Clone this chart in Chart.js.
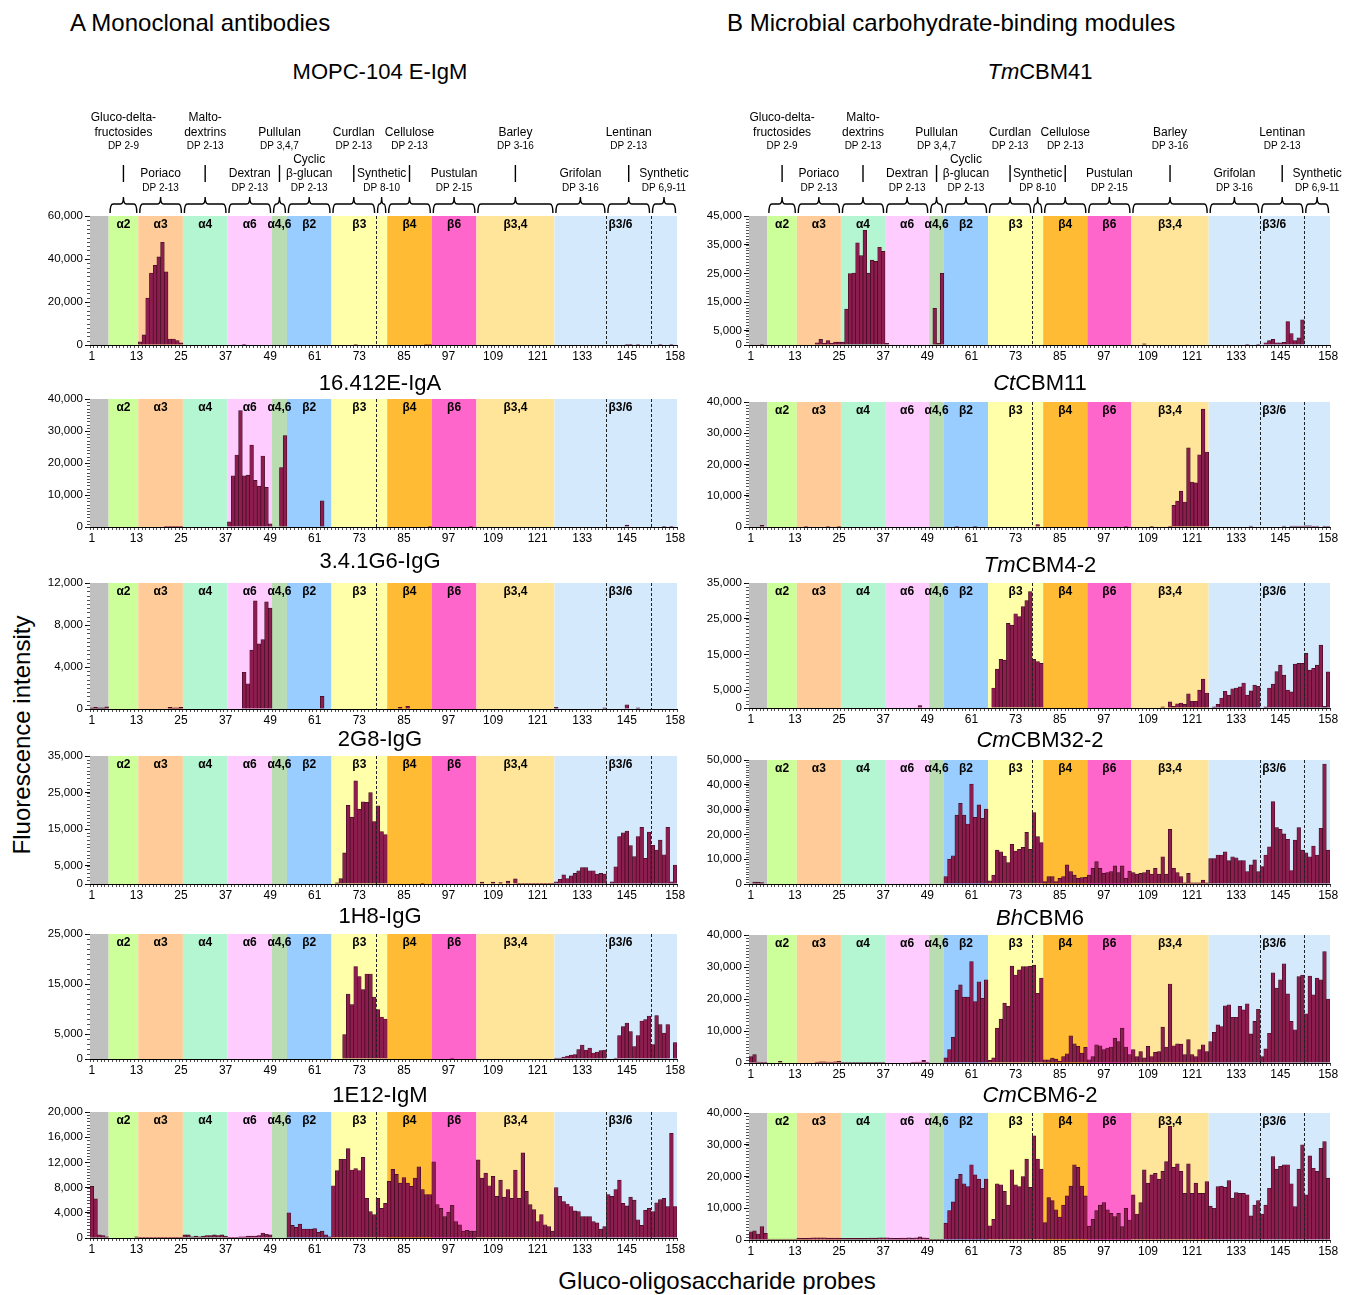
<!DOCTYPE html>
<html>
<head>
<meta charset="utf-8">
<script src="https://cdn.jsdelivr.net/npm/chart.js@4.4.1/dist/chart.umd.min.js"></script>
<style>
  body { margin: 0; background: #fff; }
  #page { position: relative; width: 1352px; height: 1295px; overflow: hidden; font-family: "Liberation Sans", Arial, sans-serif; color: #000; }
  .txt { position: absolute; white-space: nowrap; }
  .head { font-size: 24px; transform: translateY(-50%); }
  .title { font-size: 22px; transform: translate(-50%, -50%); }
  .axisTitle { font-size: 24px; transform: translate(-50%, -50%); }
  canvas { position: absolute; }
</style>
</head>
<body>
<div id="page">
  <div class="txt head" style="left:70px; top:23px;">A Monoclonal antibodies</div>
  <div class="txt head" style="left:727px; top:23px;">B Microbial carbohydrate-binding modules</div>
  <div class="txt axisTitle" style="left:22px; top:735px; transform: translate(-50%, -50%) rotate(-90deg);">Fluorescence intensity</div>
  <div class="txt axisTitle" style="left:717px; top:1281px;">Gluco-oligosaccharide probes</div>
</div>
<script>
// Glycan microarray binding: 12 panels, 158 gluco-oligosaccharide probes each

const probeLabels = [];
for (let i = 1; i <= 158; i++) probeLabels.push(String(i));
const tickProbes = [1, 13, 25, 37, 49, 61, 73, 85, 97, 109, 121, 133, 145, 158];

// probe ranges of the coloured linkage bands
const bandRanges = [[1, 5], [6, 13], [14, 25], [26, 37], [38, 49], [50, 53], [54, 65], [66, 80], [81, 92], [93, 104], [105, 125], [126, 158]];
const bandLabels = ['', 'α2', 'α3', 'α4', 'α6', 'α4,6', 'β2', 'β3', 'β4', 'β6', 'β3,4', ''];
const dividerEdges = [77, 139, 151];

// oligosaccharide series over the top panels
const upperGroups = [
    { name: ['Gluco-delta-', 'fructosides'], dp: 'DP 2-9', from: 6, to: 13 },
    { name: ['Malto-', 'dextrins'], dp: 'DP 2-13', from: 26, to: 37 },
    { name: ['Pullulan'], dp: 'DP 3,4,7', from: 50, to: 53 },
    { name: ['Curdlan'], dp: 'DP 2-13', from: 66, to: 77 },
    { name: ['Cellulose'], dp: 'DP 2-13', from: 81, to: 92 },
    { name: ['Barley'], dp: 'DP 3-16', from: 105, to: 125 },
    { name: ['Lentinan'], dp: 'DP 2-13', from: 140, to: 151 }
];
const lowerGroups = [
    { name: ['Poriaco'], dp: 'DP 2-13', from: 14, to: 25 },
    { name: ['Dextran'], dp: 'DP 2-13', from: 38, to: 49 },
    { name: ['Cyclic', 'β-glucan'], dp: 'DP 2-13', from: 54, to: 65 },
    { name: ['Synthetic'], dp: 'DP 8-10', from: 78, to: 80 },
    { name: ['Pustulan'], dp: 'DP 2-15', from: 93, to: 104 },
    { name: ['Grifolan'], dp: 'DP 3-16', from: 126, to: 139 },
    { name: ['Synthetic'], dp: 'DP 6,9-11', from: 152, to: 158 }
];

// ---- A: monoclonal antibodies ----
const mopc104 = [
    0, 0, 0, 0, 0,
    0, 0, 0, 0, 0, 0, 0, 0,
    1500, 4700, 21800, 33500, 37000, 41000, 47800, 34000, 2800, 2800, 2000, 1000,
    0, 0, 0, 0, 0, 0, 0, 0, 0, 0, 0, 0,
    0, 0, 0, 0, 300, 0, 0, 0, 0, 0, 0, 0,
    0, 0, 0, 0,
    0, 0, 0, 0, 0, 0, 0, 0, 0, 0, 0, 0,
    0, 0, 0, 0, 0, 0, 200, 0, 0, 0, 0, 0, 0, 0, 0,
    0, 0, 0, 0, 0, 0, 0, 0, 0, 0, 200, 200,
    0, 0, 0, 0, 0, 0, 0, 0, 0, 0, 0, 0,
    0, 0, 0, 0, 0, 0, 0, 0, 0, 0, 0, 0, 0, 0, 0, 0, 0, 0, 0, 0, 0,
    0, 0, 0, 0, 0, 0, 0, 0, 0, 0, 0, 0, 0, 0,
    0, 0, 0, 0, 0, 200, 300, 0, 200, 0, 0, 0,
    0, 0, 200, 0, 0, 200, 0
];
const igA16412 = [
    0, 0, 0, 0, 0,
    0, 0, 0, 0, 0, 0, 0, 0,
    0, 0, 0, 0, 0, 0, 0, 200, 200, 200, 200, 200,
    0, 0, 0, 0, 0, 0, 0, 0, 0, 0, 0, 0,
    1600, 16000, 22500, 36400, 16000, 16200, 25600, 14600, 12800, 22200, 12400, 1000,
    0, 0, 18600, 28600,
    0, 0, 0, 0, 0, 0, 0, 0, 0, 8200, 0, 0,
    0, 0, 0, 0, 0, 0, 0, 0, 0, 0, 0, 0, 0, 0, 0,
    0, 0, 0, 0, 0, 0, 0, 0, 0, 0, 0, 200,
    0, 0, 0, 0, 0, 0, 0, 0, 0, 0, 200, 0,
    0, 0, 0, 0, 0, 0, 0, 0, 0, 0, 0, 0, 0, 0, 0, 0, 0, 0, 0, 0, 0,
    0, 0, 0, 0, 0, 0, 0, 0, 0, 0, 0, 0, 0, 0,
    0, 0, 0, 0, 0, 600, 0, 0, 0, 0, 0, 0,
    0, 0, 0, 200, 0, 200, 0
];
const igG341G6 = [
    100, 150, 100, 100, 200,
    0, 0, 0, 0, 0, 0, 0, 0,
    0, 0, 0, 0, 0, 0, 0, 0, 150, 100, 100, 150,
    0, 0, 0, 0, 0, 0, 0, 0, 0, 0, 0, 0,
    0, 0, 0, 0, 3500, 2400, 5600, 10300, 6200, 6600, 10200, 9600,
    0, 0, 0, 0,
    0, 0, 0, 0, 0, 0, 0, 0, 0, 1200, 0, 0,
    0, 0, 0, 0, 0, 0, 0, 0, 0, 0, 0, 0, 0, 0, 0,
    0, 0, 0, 150, 0, 250, 0, 0, 0, 0, 0, 0,
    0, 0, 0, 0, 0, 0, 0, 0, 0, 0, 0, 0,
    0, 0, 0, 0, 0, 0, 0, 0, 0, 0, 0, 0, 0, 0, 0, 0, 0, 0, 0, 0, 0,
    150, 0, 0, 0, 0, 0, 0, 0, 0, 0, 0, 0, 0, 100,
    0, 0, 0, 0, 0, 400, 0, 0, 100, 0, 0, 0,
    0, 0, 0, 0, 0, 0, 0
];
const igG2G8 = [
    0, 0, 0, 0, 0,
    0, 0, 0, 0, 0, 0, 0, 0,
    0, 0, 0, 0, 0, 0, 0, 0, 0, 0, 0, 0,
    0, 0, 0, 0, 0, 0, 0, 0, 0, 0, 0, 0,
    0, 0, 0, 0, 0, 0, 0, 0, 0, 0, 0, 0,
    0, 0, 0, 0,
    0, 0, 0, 0, 0, 0, 0, 0, 0, 0, 0, 0,
    0, 300, 1500, 8500, 21500, 18300, 28200, 20500, 22500, 22300, 25000, 17100, 21400, 14300, 13500,
    0, 0, 0, 0, 0, 0, 0, 0, 0, 200, 0, 0,
    0, 0, 0, 0, 0, 0, 0, 0, 0, 0, 0, 0,
    0, 500, 0, 0, 500, 0, 400, 0, 800, 0, 1400, 200, 200, 200, 200, 200, 200, 200, 200, 200, 200,
    600, 1300, 2500, 1500, 2200, 2900, 3600, 4500, 4500, 3600, 3600, 2700, 2900, 2700,
    0, 600, 4700, 13000, 14000, 14500, 10500, 7500, 13000, 15500, 7000, 14200,
    10600, 9300, 12000, 8000, 15500, 600, 5200
];
const igG1H8 = [
    100, 100, 100, 0, 0,
    0, 0, 0, 0, 0, 0, 0, 0,
    0, 0, 0, 0, 0, 0, 0, 0, 0, 0, 0, 100,
    0, 0, 0, 0, 0, 0, 0, 0, 0, 0, 0, 0,
    0, 0, 0, 0, 0, 0, 0, 0, 0, 0, 0, 0,
    0, 0, 0, 0,
    0, 0, 0, 0, 0, 0, 0, 0, 0, 0, 0, 0,
    0, 0, 0, 4900, 13000, 10900, 18500, 16500, 13900, 17000, 17000, 12400, 9900, 8400, 8000,
    0, 0, 0, 0, 0, 0, 0, 0, 0, 0, 0, 0,
    0, 0, 0, 0, 0, 200, 0, 0, 0, 0, 0, 0,
    0, 0, 0, 0, 0, 0, 0, 0, 0, 0, 0, 0, 0, 0, 0, 0, 0, 0, 0, 0, 0,
    200, 200, 400, 600, 800, 900, 1900, 2800, 1800, 2200, 1200, 1400, 1700, 1800,
    0, 0, 200, 4700, 6500, 7200, 5500, 2500, 4700, 7600, 7900, 8600,
    2900, 8700, 6900, 5200, 6900, 0, 3300
];
const igM1E12 = [
    8200, 6200, 500, 400, 200,
    0, 0, 0, 0, 0, 0, 0, 200,
    100, 100, 100, 100, 100, 100, 100, 100, 100, 100, 100, 100,
    500, 500, 200, 300, 200, 300, 400, 400, 500, 400, 500, 300,
    100, 100, 100, 200, 200, 300, 300, 300, 400, 800, 600, 500,
    0, 0, 0, 0,
    4000, 2000, 1700, 2200, 1400, 1400, 1400, 1500, 900, 1100, 500, 200,
    8300, 10700, 12500, 12500, 14200, 10800, 11000, 10700, 12800, 6300, 4200, 3700, 6300, 4700, 5500,
    9000, 10900, 10100, 8700, 9600, 8700, 8200, 9500, 11300, 7700, 6900, 6900,
    12100, 5300, 4700, 3400, 4100, 5200, 2600, 2100, 1100, 1200, 1100, 1100,
    12400, 9500, 10300, 8300, 9800, 6600, 9200, 6500, 7700, 6300, 10800, 6300, 13500, 7400, 5300, 4500, 2600, 3700, 2100, 1800, 1100,
    8000, 6600, 5800, 5400, 5000, 4300, 4200, 3400, 3400, 3400, 2600, 2400, 1400, 1800,
    6900, 6600, 7700, 9200, 5500, 5100, 6500, 6000, 2900, 2000, 4400, 4700,
    4200, 5600, 6100, 6300, 5000, 16600, 5000
];

// ---- B: microbial carbohydrate-binding modules ----
const tmCBM41 = [
    0, 0, 0, 200, 0,
    0, 0, 0, 0, 0, 0, 0, 0,
    0, 0, 0, 0, 0, 800, 2000, 600, 1500, 600, 1000, 1000,
    1000, 12500, 24900, 25100, 35600, 31200, 40000, 25100, 29600, 29200, 34100, 32700,
    600, 0, 0, 0, 0, 0, 0, 0, 0, 0, 0, 0,
    0, 12800, 600, 25000,
    0, 0, 0, 0, 0, 0, 0, 0, 0, 0, 0, 0,
    0, 0, 0, 0, 0, 0, 0, 0, 0, 0, 0, 0, 0, 0, 0,
    0, 0, 0, 0, 0, 0, 0, 0, 0, 0, 0, 0,
    0, 0, 0, 0, 0, 0, 0, 0, 0, 0, 0, 0,
    0, 0, 0, 400, 0, 0, 0, 0, 0, 0, 0, 0, 0, 0, 0, 0, 0, 0, 0, 0, 0,
    0, 0, 0, 0, 0, 0, 0, 0, 0, 0, 200, 0, 0, 200,
    0, 800, 1500, 2000, 800, 800, 900, 8200, 4000, 1500, 2500, 8800,
    0, 0, 0, 0, 0, 0, 0
];
const ctCBM11 = [
    0, 0, 0, 500, 0,
    0, 0, 0, 0, 0, 0, 0, 0,
    0, 0, 200, 0, 0, 0, 0, 0, 200, 0, 0, 200,
    0, 0, 0, 0, 0, 0, 0, 0, 0, 0, 0, 0,
    0, 0, 0, 0, 0, 0, 0, 0, 0, 0, 0, 0,
    0, 0, 0, 0,
    0, 0, 0, 200, 0, 0, 0, 0, 200, 0, 0, 0,
    0, 0, 0, 0, 0, 0, 0, 0, 0, 0, 0, 0, 0, 800, 0,
    0, 0, 0, 0, 0, 0, 0, 0, 0, 0, 0, 0,
    0, 0, 0, 0, 0, 0, 0, 0, 0, 0, 200, 0,
    0, 0, 0, 0, 0, 200, 0, 0, 0, 0, 200, 6900, 8300, 11500, 8000, 25300, 14400, 14100, 23100, 37700, 24000,
    0, 0, 0, 0, 0, 0, 0, 0, 0, 0, 0, 300, 0, 0,
    0, 0, 0, 0, 0, 0, 300, 0, 300, 300, 300, 300,
    400, 400, 200, 300, 0, 300, 200
];
const tmCBM42 = [
    0, 0, 0, 0, 0,
    0, 0, 0, 0, 0, 0, 0, 0,
    0, 0, 0, 0, 0, 0, 0, 0, 0, 0, 0, 0,
    0, 0, 0, 0, 0, 0, 0, 0, 0, 0, 0, 0,
    0, 0, 0, 0, 0, 0, 0, 0, 0, 700, 0, 0,
    0, 0, 0, 0,
    0, 0, 0, 0, 0, 0, 0, 0, 0, 0, 0, 0,
    0, 5600, 10900, 13600, 13400, 23700, 23200, 26400, 25600, 28400, 30100, 32600, 13600, 13000, 12500,
    0, 0, 0, 0, 0, 0, 0, 0, 0, 0, 0, 0,
    0, 0, 0, 0, 0, 0, 0, 0, 0, 0, 0, 0,
    0, 0, 0, 0, 0, 0, 0, 0, 300, 0, 1700, 500, 1200, 1400, 1000, 4000, 1900, 1900, 5000, 8100, 4200,
    0, 300, 1000, 2800, 4700, 3600, 5400, 5600, 5900, 7000, 3600, 4800, 6400, 6100,
    0, 300, 5600, 6700, 10200, 12000, 9200, 5000, 4500, 12300, 12500, 12500,
    15300, 10600, 11100, 12000, 17600, 500, 10100
];
const cmCBM322 = [
    0, 800, 800, 600, 0,
    0, 0, 0, 0, 0, 0, 0, 0,
    0, 0, 0, 0, 0, 0, 0, 0, 0, 0, 0, 0,
    0, 0, 0, 0, 0, 0, 0, 0, 0, 0, 0, 0,
    0, 0, 0, 0, 0, 0, 0, 0, 0, 0, 0, 0,
    0, 0, 0, 0,
    3000, 10000, 11400, 27800, 32500, 27800, 24200, 40300, 26900, 31900, 26500, 30200,
    1300, 3600, 13700, 13000, 11300, 8600, 16000, 13300, 14000, 14800, 20800, 14000, 28800, 19100, 16700,
    1000, 3000, 3000, 1000, 2300, 3000, 7700, 5000, 3600, 2300, 2600, 2700,
    3600, 6300, 9000, 6300, 4300, 4600, 5000, 7300, 4600, 7300, 2300, 5200,
    4600, 4000, 4300, 4600, 5600, 4000, 6300, 4000, 11000, 4000, 22000, 6300, 4600, 3000, 500, 4300, 500, 500, 500, 1600, 500,
    10300, 10300, 11700, 11700, 13000, 9400, 11000, 10600, 9400, 9400, 5000, 7700, 9700, 5000,
    7000, 11700, 15000, 33200, 22800, 22000, 20200, 18000, 5400, 17700, 22800, 13700,
    12600, 11000, 15300, 11700, 22400, 48400, 13700
];
const bhCBM6 = [
    2000, 2600, 300, 200, 200,
    0, 0, 0, 500, 0, 0, 0, 0,
    0, 0, 0, 0, 0, 300, 400, 400, 300, 300, 400, 500,
    200, 200, 200, 200, 200, 200, 200, 200, 200, 200, 200, 200,
    0, 0, 0, 0, 0, 0, 0, 200, 300, 300, 800, 200,
    0, 0, 0, 0,
    1600, 4200, 8100, 22800, 24400, 20600, 20600, 31700, 19200, 25400, 20200, 26000,
    800, 1600, 10900, 13700, 18700, 17700, 30300, 27500, 29100, 30100, 30100, 30300, 30600, 21800, 26500,
    1000, 1000, 1500, 1200, 500, 2000, 2900, 8500, 6000, 5200, 3100, 4900,
    1000, 2000, 5700, 5400, 4200, 4700, 5000, 7800, 6700, 10900, 5000, 2600,
    4200, 2000, 3600, 1600, 5200, 2000, 3300, 3600, 11200, 5000, 24700, 5400, 6000, 5900, 2600, 7300, 2600, 2000, 4200, 5700, 3600,
    6700, 9600, 11900, 11400, 17900, 18200, 14300, 14300, 17700, 16600, 18500, 9100, 13000, 16800,
    2000, 4400, 9300, 28200, 23400, 26000, 31000, 21600, 13000, 10400, 27000, 27500,
    15400, 27200, 21300, 26500, 26000, 34800, 20000
];
const cmCBM62 = [
    2600, 2900, 1900, 4200, 2100,
    300, 300, 300, 300, 300, 300, 300, 300,
    600, 500, 500, 600, 700, 700, 700, 700, 600, 600, 600, 600,
    500, 500, 500, 500, 500, 500, 500, 600, 600, 600, 700, 700,
    700, 600, 500, 500, 600, 600, 700, 600, 700, 1000, 700, 600,
    200, 200, 200, 200,
    5300, 9300, 12000, 19200, 20700, 17700, 16800, 23700, 20500, 19200, 16300, 19200,
    4500, 6500, 17700, 17400, 15300, 11000, 22100, 17400, 16800, 20000, 25500, 16600, 32800, 25500, 22300,
    5500, 13400, 12400, 9500, 7200, 11000, 13900, 17000, 23700, 22900, 17000, 13900,
    4400, 6500, 9300, 11000, 11800, 9500, 8400, 7400, 8400, 4200, 10000, 6300,
    14200, 8200, 11800, 22100, 17900, 20500, 21000, 19200, 21600, 24700, 35800, 22900, 24000, 21600, 14700, 24000, 14700, 17900, 14700, 14700, 18400,
    10700, 10000, 16800, 17000, 16600, 18700, 13200, 14900, 14700, 14700, 14200, 7600, 11000, 12400,
    8200, 11000, 16300, 26300, 22300, 23200, 23700, 23700, 17700, 10500, 22300, 30000,
    14200, 26500, 22600, 21600, 28900, 31000, 19500
];

// y-axis tick values per panel
const ticks60k = [0, 20000, 40000, 60000];
const ticks40k = [0, 10000, 20000, 30000, 40000];
const ticks12k = [0, 4000, 8000, 12000];
const ticks35k = [0, 5000, 15000, 25000, 35000];
const ticks25k = [0, 5000, 15000, 25000];
const ticks20k = [0, 4000, 8000, 12000, 16000, 20000];
const ticks45k = [0, 5000, 15000, 25000, 35000, 45000];
const ticks50k = [0, 10000, 20000, 30000, 40000, 50000];

const panels = [
    { col: 0, row: 0, title: 'MOPC-104 E-IgM', values: mopc104, yMax: 60000, yTicks: ticks60k, minor: 2000 },
    { col: 0, row: 1, title: '16.412E-IgA', values: igA16412, yMax: 40000, yTicks: ticks40k, minor: 1000 },
    { col: 0, row: 2, title: '3.4.1G6-IgG', values: igG341G6, yMax: 12000, yTicks: ticks12k, minor: 400 },
    { col: 0, row: 3, title: '2G8-IgG', values: igG2G8, yMax: 35000, yTicks: ticks35k, minor: 1000 },
    { col: 0, row: 4, title: '1H8-IgG', values: igG1H8, yMax: 25000, yTicks: ticks25k, minor: 1000 },
    { col: 0, row: 5, title: '1E12-IgM', values: igM1E12, yMax: 20000, yTicks: ticks20k, minor: 500 },
    { col: 1, row: 0, italic: 'Tm', title: 'CBM41', values: tmCBM41, yMax: 45000, yTicks: ticks45k, minor: 1000 },
    { col: 1, row: 1, italic: 'Ct', title: 'CBM11', values: ctCBM11, yMax: 40000, yTicks: ticks40k, minor: 1000 },
    { col: 1, row: 2, italic: 'Tm', title: 'CBM4-2', values: tmCBM42, yMax: 35000, yTicks: ticks35k, minor: 1000 },
    { col: 1, row: 3, italic: 'Cm', title: 'CBM32-2', values: cmCBM322, yMax: 50000, yTicks: ticks50k, minor: 1000 },
    { col: 1, row: 4, italic: 'Bh', title: 'CBM6', values: bhCBM6, yMax: 40000, yTicks: ticks40k, minor: 1000 },
    { col: 1, row: 5, italic: 'Cm', title: 'CBM6-2', values: cmCBM62, yMax: 40000, yTicks: ticks40k, minor: 1000 }
];

// page geometry of each plot area
const colLeft = [90, 749];
const colRight = [677, 1330];
const colCenter = [380, 1040];
const rowTop = [[216, 399, 583, 756, 934, 1112], [216, 402, 583, 760, 935, 1113]];
const rowBottom = [[345, 527, 709, 884, 1059, 1238], [345, 527, 708, 884, 1063, 1240]];
const titleY = [[72, 383, 561, 739, 916, 1095], [72, 383, 565, 740, 918, 1095]];

const bandColors = ['#c0c0c0', '#ccff99', '#ffcc99', '#b4f5d2', '#ffccff', '#b9dcb1', '#99ccff', '#ffffaa', '#ffbb33', '#ff66cc', '#ffe599', '#d4eafc'];
const FONT = '"Liberation Sans", Arial, sans-serif';

Chart.defaults.font.family = FONT;
Chart.defaults.color = '#000';

function edgeFn(x) {
    const step = x.getPixelForValue(1) - x.getPixelForValue(0);
    return n => x.getPixelForValue(n) - step / 2; // left edge of probe n+1
}

const bandPlugin = {
    id: 'bands',
    beforeDatasetsDraw(chart) {
        const { ctx, chartArea: a, scales: { x } } = chart;
        const edge = edgeFn(x);
        ctx.save();
        bandRanges.forEach(([f, t], i) => {
            ctx.fillStyle = bandColors[i];
            ctx.fillRect(edge(f - 1), a.top, edge(t) - edge(f - 1), a.bottom - a.top);
        });
        ctx.fillStyle = '#000';
        ctx.font = 'bold 12px ' + FONT;
        ctx.textAlign = 'center';
        ctx.textBaseline = 'top';
        bandRanges.forEach(([f, t], i) => {
            if (bandLabels[i]) ctx.fillText(bandLabels[i], (edge(f - 1) + edge(t)) / 2, a.top + 3);
        });
        ctx.textAlign = 'left';
        ctx.fillText('β3/6', edge(139) + 2, a.top + 3);
        ctx.restore();
    },
    afterDatasetsDraw(chart) {
        const { ctx, chartArea: a, scales: { x } } = chart;
        const edge = edgeFn(x);
        ctx.save();
        ctx.strokeStyle = '#222';
        ctx.lineWidth = 1;
        ctx.setLineDash([3, 2]);
        dividerEdges.forEach(n => {
            const px = Math.round(edge(n)) + 0.5;
            ctx.beginPath();
            ctx.moveTo(px, a.top);
            ctx.lineTo(px, a.bottom);
            ctx.stroke();
        });
        ctx.restore();
    }
};

const minorTickPlugin = {
    id: 'minorTicks',
    afterDraw(chart, args, opts) {
        const { ctx, chartArea: a, scales: { y } } = chart;
        ctx.save();
        ctx.strokeStyle = '#222';
        ctx.lineWidth = 0.8;
        for (let v = 0; v <= y.max; v += opts.step) {
            const py = Math.round(y.getPixelForValue(v)) + 0.5;
            ctx.beginPath();
            ctx.moveTo(a.left - 3, py);
            ctx.lineTo(a.left, py);
            ctx.stroke();
        }
        ctx.restore();
    }
};

const headerPlugin = {
    id: 'header',
    afterDraw(chart) {
        const { ctx, chartArea: a, scales: { x } } = chart;
        const edge = edgeFn(x);
        const top = a.top;
        ctx.save();
        ctx.strokeStyle = '#000';
        ctx.fillStyle = '#000';
        ctx.lineWidth = 1.4;
        ctx.textAlign = 'center';
        ctx.textBaseline = 'middle';

        const brace = (f, t) => {
            const x1 = edge(f - 1) + 1.5, x2 = edge(t) - 1.5, xm = (x1 + x2) / 2;
            const r = Math.min(3, (x2 - x1) / 4);
            const yB = top - 3, yH = top - 12, yT = top - 19;
            ctx.beginPath();
            ctx.moveTo(x1, yB);
            ctx.quadraticCurveTo(x1, yH, x1 + r, yH);
            ctx.lineTo(xm - r, yH);
            ctx.quadraticCurveTo(xm, yH, xm, yT);
            ctx.quadraticCurveTo(xm, yH, xm + r, yH);
            ctx.lineTo(x2 - r, yH);
            ctx.quadraticCurveTo(x2, yH, x2, yB);
            ctx.stroke();
            return xm;
        };

        upperGroups.forEach(g => {
            const xm = brace(g.from, g.to);
            ctx.beginPath();
            ctx.moveTo(xm, top - 51);
            ctx.lineTo(xm, top - 34);
            ctx.stroke();
            ctx.font = '12px ' + FONT;
            g.name.forEach((line, i) => {
                ctx.fillText(line, xm, top - 83 - (g.name.length - 1 - i) * 15);
            });
            ctx.font = '10px ' + FONT;
            ctx.fillText(g.dp, xm, top - 70);
        });
        lowerGroups.forEach(g => {
            const xm = brace(g.from, g.to);
            ctx.font = '12px ' + FONT;
            g.name.forEach((line, i) => {
                ctx.fillText(line, xm, top - 42 - (g.name.length - 1 - i) * 14);
            });
            ctx.font = '10px ' + FONT;
            ctx.fillText(g.dp, xm, top - 28);
        });
        ctx.restore();
    }
};

const page = document.getElementById('page');

function buildPanel(p) {
    const left = colLeft[p.col], right = colRight[p.col];
    const top = rowTop[p.col][p.row], bottom = rowBottom[p.col][p.row];
    const padTop = p.row === 0 ? 112 : 10;
    const padRight = p.row === 0 ? 24 : 12;
    const axisW = 80, axisH = 22;
    const w = axisW + (right - left) + padRight;
    const h = padTop + (bottom - top) + axisH;

    const cv = document.createElement('canvas');
    cv.width = w;
    cv.height = h;
    cv.style.cssText = `left:${left - axisW}px;top:${top - padTop}px;width:${w}px;height:${h}px;`;
    page.appendChild(cv);

    const t = document.createElement('div');
    t.className = 'txt title';
    t.style.left = colCenter[p.col] + 'px';
    t.style.top = titleY[p.col][p.row] + 'px';
    t.innerHTML = (p.italic ? '<i>' + p.italic + '</i>' : '') + p.title;
    page.appendChild(t);

    const plugins = [bandPlugin, minorTickPlugin];
    if (p.row === 0) plugins.push(headerPlugin);

    new Chart(cv, {
        type: 'bar',
        data: {
            labels: probeLabels,
            datasets: [{
                data: p.values,
                backgroundColor: '#8c1d4e',
                borderColor: '#3f0a20',
                borderWidth: 0.7,
                barPercentage: 1,
                categoryPercentage: 1
            }]
        },
        options: {
            responsive: false,
            animation: false,
            devicePixelRatio: 1,
            layout: { padding: { top: padTop, right: padRight, left: 0, bottom: 0 } },
            plugins: {
                legend: { display: false },
                tooltip: { enabled: false },
                minorTicks: { step: p.minor }
            },
            scales: {
                x: {
                    afterFit(scale) { scale.height = axisH; },
                    border: { color: '#000', width: 1 },
                    grid: { drawOnChartArea: false, tickLength: 3, color: '#222', lineWidth: 0.8 },
                    ticks: {
                        autoSkip: false,
                        maxRotation: 0,
                        padding: 1,
                        color: '#000',
                        font: { size: 12 },
                        callback: (v, i) => tickProbes.includes(i + 1) ? probeLabels[i] : ''
                    }
                },
                y: {
                    min: 0,
                    max: p.yMax,
                    afterFit(scale) { scale.width = axisW; },
                    afterBuildTicks(scale) { scale.ticks = p.yTicks.map(v => ({ value: v })); },
                    border: { color: '#000', width: 1 },
                    grid: { drawOnChartArea: false, tickLength: 5, color: '#000' },
                    ticks: {
                        padding: 2,
                        color: '#000',
                        font: { size: 11.5 },
                        callback: v => v.toLocaleString('en-US')
                    }
                }
            }
        },
        plugins
    });
}

panels.forEach(buildPanel);
</script>
</body>
</html>
